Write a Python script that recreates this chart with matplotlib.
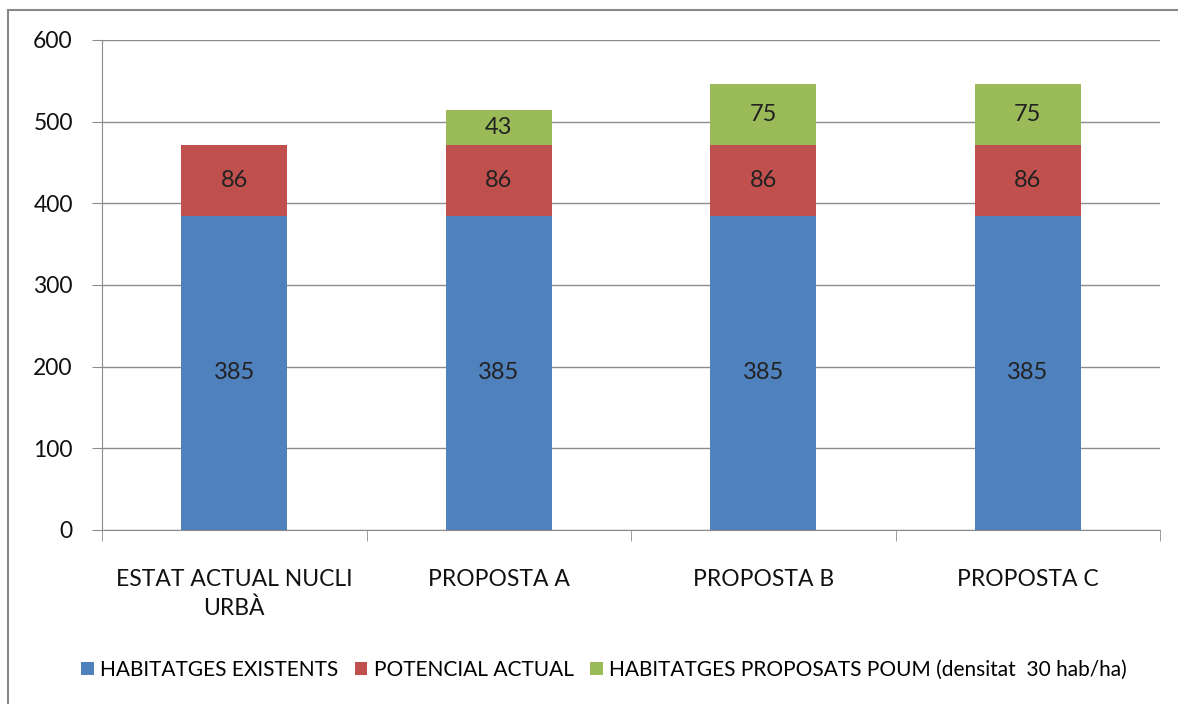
import matplotlib
matplotlib.use("Agg")
import matplotlib.pyplot as plt
from matplotlib.patches import Rectangle
import numpy as np

categories = ["ESTAT ACTUAL NUCLI\nURBÀ", "PROPOSTA A", "PROPOSTA B", "PROPOSTA C"]
existents = [385, 385, 385, 385]
potencial = [86, 86, 86, 86]
proposats = [0, 43, 75, 75]
series_names = ["HABITATGES EXISTENTS", "POTENCIAL ACTUAL",
                "HABITATGES PROPOSATS POUM (densitat  30 hab/ha)"]
colors = ["#4F81BD", "#C0504D", "#9BBB59"]
yticks = [0, 100, 200, 300, 400, 500, 600]

plt.rcParams['font.family'] = ['Lato', 'DejaVu Sans']
W, H = 1178, 704
fig = plt.figure(figsize=(W/100, H/100), dpi=100)
# outer frame
fig.patches.append(Rectangle((8/W, -0.1), 1.2, (H-10)/H + 0.1, transform=fig.transFigure,
                             fill=False, edgecolor="#888888", linewidth=1.5))
ax = fig.add_axes([102/W, 1-530/H, (1160-102)/W, 490/H])
x = np.arange(len(categories))
w = 0.4
b1 = ax.bar(x, existents, w, color=colors[0], label=series_names[0], zorder=3)
b2 = ax.bar(x, potencial, w, bottom=existents, color=colors[1], label=series_names[1], zorder=3)
bot = np.array(existents) + np.array(potencial)
b3 = ax.bar(x, proposats, w, bottom=bot, color=colors[2], label=series_names[2], zorder=3)

lab_fs = 17
for i in range(len(categories)):
    ax.text(x[i], existents[i]/2, str(existents[i]), ha='center', va='center', fontsize=lab_fs, color='#222222', zorder=4)
    ax.text(x[i], existents[i] + potencial[i]/2, str(potencial[i]), ha='center', va='center', fontsize=lab_fs, color='#222222', zorder=4)
    if proposats[i] > 0:
        ax.text(x[i], bot[i] + proposats[i]/2, str(proposats[i]), ha='center', va='center', fontsize=lab_fs, color='#222222', zorder=4)

ax.set_xlim(-0.5, len(categories)-0.5)
ax.set_ylim(0, 600)
ax.set_yticks(yticks)
ax.set_yticklabels([str(v) for v in yticks], fontsize=16.5)
ax.yaxis.grid(True, color="#8c8c8c", linewidth=1)
ax.set_axisbelow(True)
for s in ["top", "right"]:
    ax.spines[s].set_visible(False)
for s in ["left", "bottom"]:
    ax.spines[s].set_color("#8c8c8c")
ax.tick_params(axis='y', length=7, color="#8c8c8c", pad=14, labelcolor='#111111')
ax.set_xticks(x)
ax.set_xticklabels(categories, fontsize=16.5, color='#111111', linespacing=1.45)
ax.tick_params(axis='x', length=0, pad=28)
ax.set_xticks(np.arange(-0.5, len(categories)), minor=True)
ax.tick_params(axis='x', which='minor', length=8, color="#8c8c8c")

leg = fig.legend(handles=[b1, b2, b3], labels=series_names, loc='center',
                 bbox_to_anchor=(604/W, 1-670/H), ncol=3, frameon=False,
                 fontsize=15, handlelength=0.6, handleheight=0.6,
                 handletextpad=0.3, columnspacing=0.8)
fig.savefig("out.png", dpi=100)
